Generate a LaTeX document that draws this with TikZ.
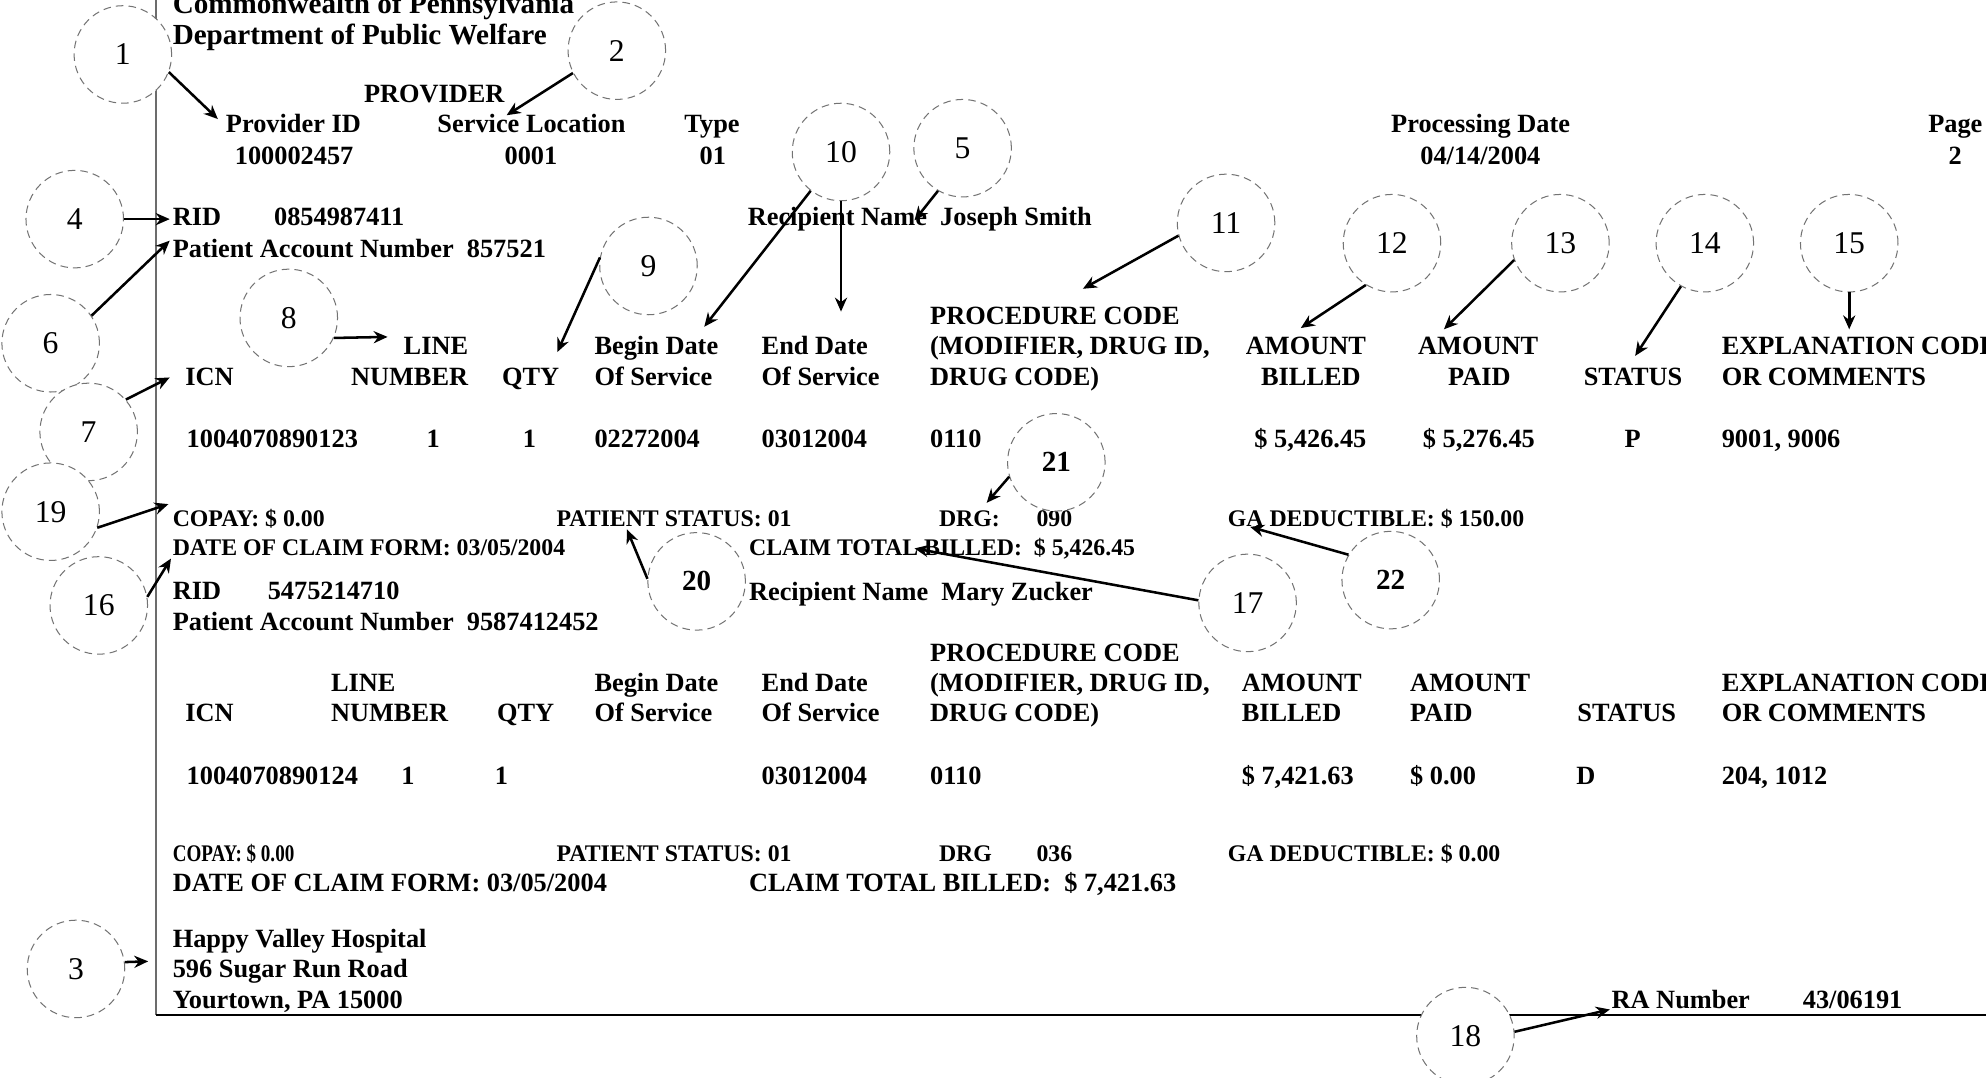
\documentclass[tikz,border=0pt]{standalone}
\usepackage{fontspec}
\setmainfont{Liberation Serif}
\usetikzlibrary{arrows.meta}
\begin{document}
\begin{tikzpicture}[x=0.5pt,y=-0.5pt,
  txt/.style={inner sep=0pt, anchor=base west, font=\fontsize{10.4}{12}\selectfont\bfseries},
  ttl/.style={txt, font=\fontsize{11.5}{13}\selectfont\bfseries},
  sml/.style={txt, font=\fontsize{9.4}{11}\selectfont\bfseries},
  cnum/.style={circle, draw=black!55, line width=0.4pt, dash pattern=on 3pt off 2pt, fill=white, minimum size=38.5pt, inner sep=0pt, font=\fontsize{12.5}{12.5}\selectfont},
  bnum/.style={cnum, font=\fontsize{11.5}{11.5}\selectfont\bfseries},
  arr/.style={line width=1pt, -{Stealth[length=5.5pt,width=4.8pt]}},
]
\useasboundingbox (0,0) rectangle (1568,851);
\fill[white] (0,0) rectangle (1568,851);

% frame
\coordinate (ftop) at (123,0);
\coordinate (fcorner) at (123,801);
\coordinate (fright) at (1575,801);
\draw[line width=0.8pt, gray!85!black] (ftop) -- (fcorner);
\draw[line width=0.8pt, black] (fcorner) -- (fright);

% title
\node[ttl] (tA) at (136,10.5) {Commonwealth of Pennsylvania};
\node[ttl] (tB) at (136,35.5) {Department of Public Welfare};

% provider header
\node[txt] (prov) at (287,81) {PROVIDER};
\node[txt] (provid) at (178,105) {Provider ID};
\node[txt] (servloc) at (345,105) {Service Location};
\node[txt] (type) at (540,105) {Type};
\node[txt] (procdate) at (1098,105) {Processing Date};
\node[txt] (page) at (1522,105) {Page};
\node[txt] (providv) at (185,130) {100002457};
\node[txt] (servlocv) at (398,130) {0001};
\node[txt] (typev) at (552,130) {01};
\node[txt] (procdatev) at (1121,130) {04/14/2004};
\node[txt] (pagev) at (1538,130) {2};

% recipient 1
\node[txt] (rid1) at (136,178) {RID};
\node[txt] (rid1v) at (216,178) {0854987411};
\node[txt] (rname1) at (590,178) {Recipient Name\ \ Joseph Smith};
\node[txt] (pan1) at (136,203) {Patient Account Number\ \ 857521};

% table header 1
\node[txt] (hproc1) at (734,256) {PROCEDURE CODE};
\node[txt, anchor=base east] (hline1) at (370,280) {LINE};
\node[txt] (hbeg1) at (469,280) {Begin Date};
\node[txt] (hend1) at (601,280) {End Date};
\node[txt] (hmod1) at (734,280) {(MODIFIER, DRUG ID,};
\node[txt, anchor=base] (hamt1) at (1031,280) {AMOUNT};
\node[txt, anchor=base] (hamp1) at (1167,280) {AMOUNT};
\node[txt] (hexp1) at (1359,280) {EXPLANATION CODE};
\node[txt] (hicn1) at (146,304) {ICN};
\node[txt, anchor=base east] (hnum1) at (370,304) {NUMBER};
\node[txt] (hqty1) at (396,304) {QTY};
\node[txt] (hbos1) at (469,304) {Of Service};
\node[txt] (heos1) at (601,304) {Of Service};
\node[txt] (hdrug1) at (734,304) {DRUG CODE)};
\node[txt, anchor=base] (hbil1) at (1035,304) {BILLED};
\node[txt, anchor=base] (hpaid1) at (1168,304) {PAID};
\node[txt] (hstat1) at (1250,304) {STATUS};
\node[txt] (hcom1) at (1359,304) {OR COMMENTS};

% values 1
\node[txt] (vicn1) at (147,353) {1004070890123};
\node[txt, anchor=base] (vline1) at (342,353) {1};
\node[txt, anchor=base] (vqty1) at (418,353) {1};
\node[txt] (vbeg1) at (469,353) {02272004};
\node[txt] (vend1) at (601,353) {03012004};
\node[txt] (vproc1) at (734,353) {0110};
\node[txt] (vbil1) at (990,353) {\$ 5,426.45};
\node[txt] (vpaid1) at (1123,353) {\$ 5,276.45};
\node[txt, anchor=base] (vstat1) at (1289,353) {P};
\node[txt] (vcom1) at (1359,353) {9001, 9006};

% footer 1
\node[sml] (copay1) at (136,415.5) {COPAY: \$ 0.00};
\node[sml] (pstat1) at (439,415.5) {PATIENT STATUS: 01};
\node[sml] (drg1) at (741,415.5) {DRG:};
\node[sml] (drg1v) at (818,415.5) {090};
\node[sml] (gad1) at (969,415.5) {GA DEDUCTIBLE: \$ 150.00};
\node[sml] (dcf1) at (136,438.5) {DATE OF CLAIM FORM: 03/05/2004};
\node[sml] (ctb1) at (591,438.5) {CLAIM TOTAL BILLED:\ \ \$ 5,426.45};

% recipient 2
\node[txt] (rid2) at (136,473) {RID};
\node[txt] (rid2v) at (211,473) {5475214710};
\node[txt] (rname2) at (591,474) {Recipient Name\ \ Mary Zucker};
\node[txt] (pan2) at (136,498) {Patient Account Number\ \ 9587412452};

% table header 2
\node[txt] (hproc2) at (734,522) {PROCEDURE CODE};
\node[txt] (hline2) at (261,546) {LINE};
\node[txt] (hbeg2) at (469,546) {Begin Date};
\node[txt] (hend2) at (601,546) {End Date};
\node[txt] (hmod2) at (734,546) {(MODIFIER, DRUG ID,};
\node[txt] (hamt2) at (980,546) {AMOUNT};
\node[txt] (hamp2) at (1113,546) {AMOUNT};
\node[txt] (hexp2) at (1359,546) {EXPLANATION CODE};
\node[txt] (hicn2) at (146,570) {ICN};
\node[txt] (hnum2) at (261,570) {NUMBER};
\node[txt] (hqty2) at (392,570) {QTY};
\node[txt] (hbos2) at (469,570) {Of Service};
\node[txt] (heos2) at (601,570) {Of Service};
\node[txt] (hdrug2) at (734,570) {DRUG CODE)};
\node[txt] (hbil2) at (980,570) {BILLED};
\node[txt] (hpaid2) at (1113,570) {PAID};
\node[txt] (hstat2) at (1245,570) {STATUS};
\node[txt] (hcom2) at (1359,570) {OR COMMENTS};

% values 2
\node[txt] (vicn2) at (147,619) {1004070890124};
\node[txt, anchor=base] (vline2) at (322,619) {1};
\node[txt, anchor=base] (vqty2) at (396,619) {1};
\node[txt] (vend2) at (601,619) {03012004};
\node[txt] (vproc2) at (734,619) {0110};
\node[txt] (vbil2) at (980,619) {\$ 7,421.63};
\node[txt] (vpaid2) at (1113,619) {\$ 0.00};
\node[txt, anchor=base] (vstat2) at (1252,619) {D};
\node[txt] (vcom2) at (1359,619) {204, 1012};

% footer 2
\node[sml] (copay2) at (136,680.5) {\scalebox{0.8}[1]{COPAY: \$ 0.00}};
\node[sml] (pstat2) at (439,680.5) {PATIENT STATUS: 01};
\node[sml] (drg2) at (741,680.5) {DRG};
\node[sml] (drg2v) at (818,680.5) {036};
\node[sml] (gad2) at (969,680.5) {GA DEDUCTIBLE: \$ 0.00};
\node[txt] (dcf2) at (136,704) {DATE OF CLAIM FORM: 03/05/2004};
\node[txt] (ctb2) at (591,704) {CLAIM TOTAL BILLED:\ \ \$ 7,421.63};

% address
\node[txt] (addr1) at (136,748) {Happy Valley Hospital};
\node[txt] (addr2) at (136,772) {596 Sugar Run Road};
\node[txt] (addr3) at (136,796) {Yourtown, PA 15000};
\node[txt] (ranum) at (1272,796) {RA Number};
\node[txt] (ranumv) at (1423,796) {43/06191};

% numbered circles
\node[cnum] (c1) at (97,43) {1};
\node[cnum] (c2) at (487,40) {2};
\node[cnum] (c4) at (59,173) {4};
\node[cnum] (c10) at (664,120) {10};
\node[cnum] (c5) at (760,117) {5};
\node[cnum] (c11) at (968,176) {11};
\node[cnum] (c12) at (1099,192) {12};
\node[cnum] (c13) at (1232,192) {13};
\node[cnum] (c14) at (1346,192) {14};
\node[cnum] (c15) at (1460,192) {15};
\node[cnum] (c9) at (512,210) {9};
\node[cnum] (c8) at (228,251) {8};
\node[cnum] (c6) at (40,271) {6};
\node[cnum] (c7) at (70,341) {7};
\node[cnum] (c19) at (40,404) {19};
\node[bnum] (c21) at (834,365) {21};
\node[bnum] (c20) at (550,459) {20};
\node[cnum] (c16) at (78,478) {16};
\node[cnum] (c17) at (985,476) {17};
\node[bnum] (c22) at (1098,458) {22};
\node[cnum] (c3) at (60,765) {3};
\node[cnum] (c18) at (1157,818) {18};

% arrow tips
\coordinate (t1) at (172,94);
\coordinate (t2) at (400,91);
\coordinate (t4) at (134,173);
\coordinate (t6) at (134,190);
\coordinate (t7) at (134,298);
\coordinate (t8) at (306,266);
\coordinate (t9) at (440,278);
\coordinate (t10a) at (556,258);
\coordinate (t10b) at (664,246);
\coordinate (t5) at (722,174);
\coordinate (t11) at (855,228);
\coordinate (t12) at (1027,259);
\coordinate (t13) at (1140,260);
\coordinate (t14) at (1291,281);
\coordinate (t15) at (1460,260);
\coordinate (t19) at (133,398);
\coordinate (t16) at (135,441);
\coordinate (t20) at (495,418);
\coordinate (t21) at (779,397);
\coordinate (t17) at (722,433);
\coordinate (t22) at (987,416);
\coordinate (t3) at (117,759);
\coordinate (t18) at (1271,797);

% arrows
\draw[arr] (c1.-21) -- (t1);
\draw[arr] (c2.207) -- (t2);
\draw[arr] (c4) -- (t4);
\draw[arr] (c6.34) -- (t6);
\draw[arr] (c7.41) -- (t7);
\draw[arr] (c8.-24) -- (t8);
\draw[arr] (c9.170) -- (t9);
\draw[arr] (c10.232) -- (t10a);
\draw[arr] (c10.south) -- (t10b);
\draw[arr] (c5.240) -- (t5);
\draw[arr] (c11.195) -- (t11);
\draw[arr] (c12.238) -- (t12);
\draw[arr] (c13.200) -- (t13);
\draw[arr] (c14.241) -- (t14);
\draw[arr] (c15.south) -- (t15);
\draw[arr] (c19.-19) -- (t19);
\draw[arr] (c16.10) -- (t16);
\draw[arr] (c20.177) -- (t20);
\draw[arr] (c21.197) -- (t21);
\draw[arr] (c17.177) -- (t17);
\draw[arr] (c22.149) -- (t22);
\draw[arr] (c3.8) -- (t3);
\draw[arr] (c18.5) -- (t18);
\end{tikzpicture}
\end{document}
